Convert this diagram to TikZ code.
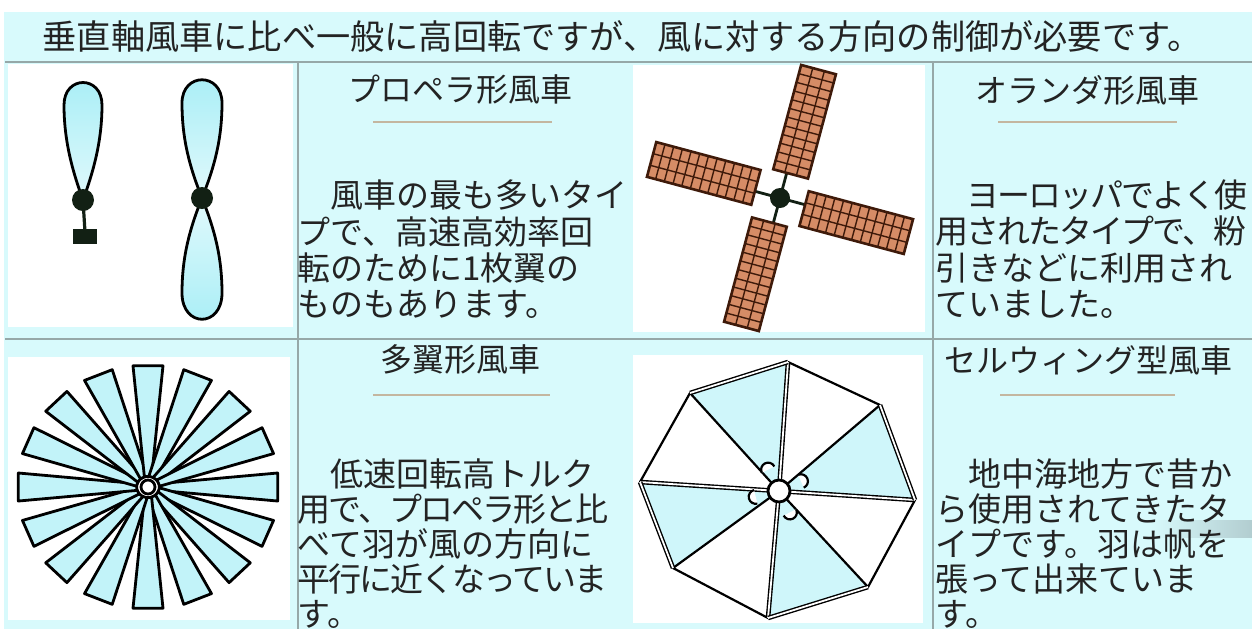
\documentclass[tikz,border=0pt]{standalone}
\usepackage{fontspec}
\newfontfamily\jp{Noto Sans CJK JP}
% slightly tighter setting for the long lines
\newcommand\squeeze[1]{{\addfontfeature{LetterSpace=-6}#1}}

\definecolor{panecyan}{RGB}{216,250,252}
\definecolor{gridgrey}{RGB}{150,168,168}
\definecolor{ruletan}{RGB}{196,182,160}
\definecolor{inkgrey}{RGB}{35,35,35}
\definecolor{bladecyan}{RGB}{168,238,246}
\definecolor{hubdark}{RGB}{18,32,20}
\definecolor{sailbrick}{RGB}{214,140,102}
\definecolor{latticebrown}{RGB}{62,26,10}
\definecolor{scrollgrey}{RGB}{178,205,208}

\tikzset{
  titletext/.style={font=\jp\fontsize{17.1pt}{17pt}\selectfont, text=inkgrey, inner sep=0pt},
  headtext/.style={font=\jp\fontsize{16pt}{16pt}\selectfont, text=inkgrey, inner sep=0pt},
  bodytext/.style={font=\jp\fontsize{16.5pt}{16.5pt}\selectfont, text=inkgrey, inner sep=0pt, anchor=west},
  gridline/.style={draw=gridgrey, line width=1pt},
  headrule/.style={draw=ruletan, line width=1pt},
  bladeline/.style={draw=black, line width=1.4pt, line join=round},
  sailframe/.style={draw=latticebrown, line width=1.3pt},
  lattice/.style={draw=latticebrown, line width=0.7pt},
  spoke/.style={draw=black, line width=1.1pt},
  mast/.style={draw=black, line width=0.7pt, double=white, double distance=0.9pt},
}

\begin{document}
\begin{tikzpicture}[x=0.5pt, y=-0.5pt]
  \useasboundingbox (0,0) rectangle (1252,629);
  \fill[white] (0,0) rectangle (1252,629);
  \fill[panecyan] (4,12) rectangle (1252,629);

  % picture cells
  \fill[white] (8,64) rectangle (293,327);
  \fill[white] (633,65) rectangle (925,332);
  \fill[white] (8,357) rectangle (290,620);
  \fill[white] (633,355) rectangle (923,623);

  \draw[gridline] (5,62) -- (1252,62);
  \draw[gridline] (5,339) -- (1252,339);
  \draw[gridline] (298,62) -- (298,629);
  \draw[gridline] (933,62) -- (933,629);

  \shade[left color=panecyan, right color=scrollgrey] (1150,520) rectangle (1252,537);

  \node[titletext] (title) at (622,36) {垂直軸風車に比べ一般に高回転ですが、風に対する方向の制御が必要です。};

  % --- propeller ---
  \coordinate (hubA) at (83,200);
  \coordinate (hubB) at (202,198);
  \draw[hubdark, line width=1.6pt] (hubA) -- (85,232);
  \fill[hubdark] (73,229) rectangle (97,244);
  \draw[bladeline, top color=bladecyan, bottom color=bladecyan!35]
    (hubA) .. controls (72,170) and (64,140) .. (64,105)
    .. controls (64,75) and (102,75) .. (102,105)
    .. controls (102,140) and (94,170) .. (hubA) -- cycle;
  \draw[bladeline, top color=bladecyan, bottom color=bladecyan!35]
    (hubB) .. controls (190,168) and (182,140) .. (182,103)
    .. controls (182,72) and (222,72) .. (222,103)
    .. controls (222,140) and (214,168) .. (hubB) -- cycle;
  \draw[bladeline, top color=bladecyan!35, bottom color=bladecyan]
    (hubB) .. controls (190,228) and (182,256) .. (182,293)
    .. controls (182,328) and (222,328) .. (222,293)
    .. controls (222,256) and (214,228) .. (hubB) -- cycle;
  \fill[hubdark] (hubA) circle (11);
  \fill[hubdark] (hubB) circle (11);

  \node[headtext] (prophead) at (460,89) {プロペラ形風車};
  \draw[headrule] (373,122) -- (552,122);
  \foreach \txt [count=\i] in {{　風車の最も多いタイ},{プで、高速高効率回},{転のために1枚翼の},{ものもあります。}}
    \node[bodytext] (propline\i) at (297,{195+36.5*(\i-1)}) {\txt};

  % --- dutch windmill ---
  \coordinate (dutchhub) at (780,198);
  \foreach \a in {-15,75,165,255} {
    \begin{scope}[shift={(dutchhub)}, rotate=\a]
      \draw[hubdark, line width=1.4pt] (0,0) -- (0,-30);
      \fill[sailbrick] (-14,-26) rectangle (22,-134);
      \foreach \t in {-35,-44,...,-125}
        \draw[lattice] (-14,\t) -- (22,\t);
      \draw[lattice] (-2,-26) -- (-2,-134) (10,-26) -- (10,-134);
      \draw[sailframe] (-14,-26) rectangle (22,-134);
    \end{scope}
  }
  \fill[hubdark] (dutchhub) circle (10);

  \node[headtext] (dutchhead) at (1087,90) {オランダ形風車};
  \draw[headrule] (998,122) -- (1177,122);
  \foreach \txt [count=\i] in {{\squeeze{　ヨーロッパでよく使}},{\squeeze{用されたタイプで、粉}},{引きなどに利用され},{ていました。}}
    \node[bodytext] (dutchline\i) at (935,{195+36.5*(\i-1)}) {\txt};

  % --- multi-blade ---
  \coordinate (multihub) at (148,487);
  \begin{scope}[shift={(multihub)}, xscale=1.07]
    \foreach \a in {0,22.5,...,337.5}
      \draw[bladeline, fill=bladecyan!70]
        ({\a-18}:11) -- ({\a-6.6}:122) -- ({\a+6.6}:122) -- ({\a+18}:11) -- cycle;
  \end{scope}
  \draw[bladeline, fill=white] (multihub) circle (7);

  \node[headtext] (multihead) at (460,359) {多翼形風車};
  \draw[headrule] (373,395) -- (550,395);
  \foreach \txt [count=\i] in {{　低速回転高トルク},{\squeeze{用で、プロペラ形と比}},{べて羽が風の方向に},{\squeeze{平行に近くなっていま}},{す。}}
    \node[bodytext] (multiline\i) at (297,{474+35*(\i-1)}) {\txt};

  % --- sail wing ---
  \coordinate (sailhub) at (779,491);
  \coordinate (v1) at (788,362);
  \coordinate (v2) at (880,405);
  \coordinate (v3) at (915,500);
  \coordinate (v4) at (868,587);
  \coordinate (v5) at (768,618);
  \coordinate (v6) at (673,568);
  \coordinate (v7) at (640,482);
  \coordinate (v8) at (690,393);
  \foreach \p/\q in {v8/v1,v2/v3,v4/v5,v6/v7}
    \fill[bladecyan!55] (\p) -- (\q) -- (sailhub) -- cycle;
  \draw[spoke, line join=round] (v1) -- (v2) -- (v3) -- (v4) -- (v5) -- (v6) -- (v7) -- (v8) -- cycle;
  \foreach \v in {v2,v4,v6,v8}
    \draw[spoke] (\v) -- (sailhub);
  \foreach \v in {v1,v3,v5,v7}
    \draw[mast] (\v) -- (sailhub);
  \foreach \p/\q in {v8/v1,v2/v3,v4/v5,v6/v7}
    \draw[mast] (\p) -- (\q);
  \foreach \t in {117,24,-63,-166}
    \draw[spoke, fill=white, shift={(sailhub)}, rotate=\t] (24,-7) arc[start angle=-90, end angle=90, radius=7];
  \draw[bladeline, fill=white] (sailhub) circle (11);

  \node[headtext] (sailhead) at (1088,360) {セルウィング型風車};
  \draw[headrule] (1000,395) -- (1175,395);
  \foreach \txt [count=\i] in {{　地中海地方で昔か},{ら使用されてきたタ},{イプです。羽は帆を},{張って出来ていま},{す。}}
    \node[bodytext] (sailline\i) at (935,{474+35*(\i-1)}) {\txt};
\end{tikzpicture}
\end{document}
